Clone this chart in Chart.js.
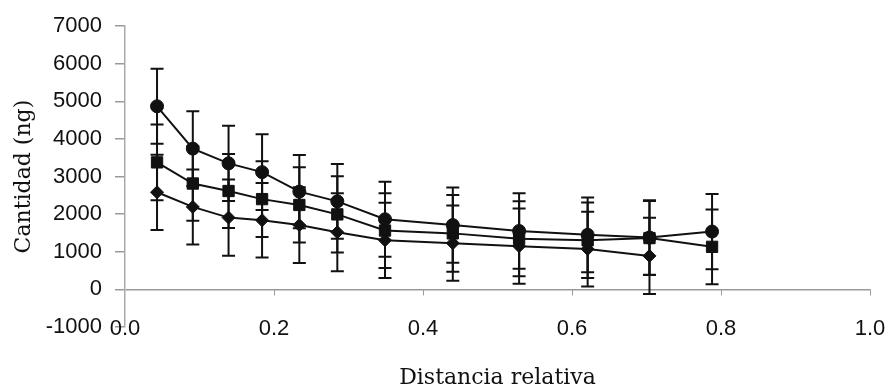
<!DOCTYPE html>
<html>
<head>
<meta charset="utf-8">
<script src="https://cdn.jsdelivr.net/npm/chart.js@4.4.1/dist/chart.umd.min.js"></script>
<style>
  html, body { margin: 0; padding: 0; background: #ffffff; }
  #wrap { width: 893px; height: 391px; position: relative; }
</style>
</head>
<body>
<div id="wrap"><canvas id="c" width="893" height="391"></canvas></div>
<script>
// ---- data ----
const distancia = [0.043, 0.091, 0.139, 0.184, 0.234, 0.285, 0.349, 0.440, 0.529, 0.621, 0.704, 0.788];

const serieCirculo = [4870, 3745, 3352, 3119, 2601, 2342, 1865, 1710, 1554, 1451, 1380, 1539];
const errorCirculo = [997, 992, 1000, 1005, 974, 992, 997, 1000, 1005, 993, 988, 1000];

const serieCuadrado = [3378, 2816, 2617, 2401, 2246, 1995, 1565, 1490, 1347, 1306, 1365, 1132];
const errorCuadrado = [1005, 992, 985, 1010, 1000, 1015, 993, 1020, 1000, 1005, 985, 992];

const serieRombo = [2583, 2194, 1909, 1839, 1710, 1521, 1306, 1230, 1150, 1073, 891];
const errorRombo = [1000, 997, 1015, 993, 1010, 1037, 1000, 1000, 1000, 993, 1014];

const xTicks = [0.0, 0.2, 0.4, 0.6, 0.8, 1.0];
const yTicks = [-1000, 0, 1000, 2000, 3000, 4000, 5000, 6000, 7000];

const xTitle = 'Distancia relativa';
const yTitle = 'Cantidad (ng)';

function pts(xs, ys, es) {
  return ys.map((y, i) => ({ x: xs[i], y: y, err: es[i] }));
}

const tickFont = { family: "'Liberation Sans', Arial, sans-serif", size: 22 };
const titleFont = { family: "'DejaVu Serif', serif", size: 22 };

const errorBars = {
  id: 'errorBars',
  beforeDatasetsDraw(chart) {
    const ctx = chart.ctx;
    const xs = chart.scales.x, ys = chart.scales.y;
    ctx.save();
    ctx.strokeStyle = '#111';
    ctx.lineWidth = 2;
    chart.data.datasets.forEach(ds => {
      ds.data.forEach(p => {
        const px = xs.getPixelForValue(p.x);
        const top = ys.getPixelForValue(p.y + p.err);
        const bot = ys.getPixelForValue(p.y - p.err);
        ctx.beginPath();
        ctx.moveTo(px, top); ctx.lineTo(px, bot);
        ctx.moveTo(px - 6.5, top); ctx.lineTo(px + 6.5, top);
        ctx.moveTo(px - 6.5, bot); ctx.lineTo(px + 6.5, bot);
        ctx.stroke();
      });
    });
    ctx.restore();
  }
};

// small tick marks on the zero line and x tick labels at the bottom of the plot
const xAxisDecor = {
  id: 'xAxisDecor',
  beforeDatasetsDraw(chart) {
    const ctx = chart.ctx;
    const xs = chart.scales.x, ys = chart.scales.y;
    const y0 = ys.getPixelForValue(0);
    ctx.save();
    ctx.strokeStyle = '#9a9a9a';
    ctx.lineWidth = 1;
    xTicks.forEach(v => {
      if (v === 0) return;
      const px = Math.round(xs.getPixelForValue(v)) + 0.5;
      ctx.beginPath();
      ctx.moveTo(px, y0);
      ctx.lineTo(px, y0 + 6);
      ctx.stroke();
    });
    ctx.restore();
  },
  afterDraw(chart) {
    const ctx = chart.ctx;
    const xs = chart.scales.x;
    const yLab = chart.chartArea.bottom + 2;
    ctx.save();
    ctx.font = tickFont.size + 'px ' + tickFont.family;
    ctx.fillStyle = '#111';
    ctx.textAlign = 'center';
    ctx.textBaseline = 'middle';
    xTicks.forEach(v => {
      ctx.fillText(v.toFixed(1), xs.getPixelForValue(v), yLab);
    });
    ctx.restore();
  }
};

new Chart(document.getElementById('c'), {
  type: 'scatter',
  data: {
    datasets: [
      {
        label: 'círculo',
        data: pts(distancia, serieCirculo, errorCirculo),
        showLine: true,
        borderColor: '#111', backgroundColor: '#111',
        borderWidth: 2,
        pointStyle: 'circle', pointRadius: 6.5, pointBorderWidth: 1,
        pointBackgroundColor: '#111', pointBorderColor: '#111'
      },
      {
        label: 'cuadrado',
        data: pts(distancia, serieCuadrado, errorCuadrado),
        showLine: true,
        borderColor: '#111', backgroundColor: '#111',
        borderWidth: 2,
        pointStyle: 'rect', pointRadius: 8, pointBorderWidth: 1,
        pointBackgroundColor: '#111', pointBorderColor: '#111'
      },
      {
        label: 'rombo',
        data: pts(distancia, serieRombo, errorRombo),
        showLine: true,
        borderColor: '#111', backgroundColor: '#111',
        borderWidth: 2,
        pointStyle: 'rectRot', pointRadius: 6.5, pointBorderWidth: 1,
        pointBackgroundColor: '#111', pointBorderColor: '#111'
      }
    ]
  },
  options: {
    responsive: false,
    animation: false,
    layout: { padding: { left: 0, top: 19, right: 23, bottom: 0 } },
    plugins: {
      legend: { display: false },
      tooltip: { enabled: false }
    },
    scales: {
      x: {
        type: 'linear',
        min: 0, max: 1,
        afterBuildTicks: s => { s.ticks = xTicks.map(v => ({ value: v })); },
        afterFit: s => { s.height = 64; s.paddingLeft = 0; s.paddingRight = 0; },
        ticks: { display: false },
        grid: { display: false, drawTicks: false },
        border: { display: false },
        title: {
          display: true, text: xTitle, font: titleFont, color: '#111',
          padding: { top: 4, bottom: 0 }
        }
      },
      y: {
        type: 'linear',
        min: -1000, max: 7000,
        afterBuildTicks: s => { s.ticks = yTicks.map(v => ({ value: v })); },
        afterFit: s => { s.width = 125; },
        ticks: {
          font: tickFont, color: '#111',
          padding: 13,
          callback: v => String(v)
        },
        grid: {
          drawOnChartArea: true,
          color: c => (c.tick && c.tick.value === 0) ? '#9a9a9a' : 'rgba(0,0,0,0)',
          tickColor: '#9a9a9a',
          tickLength: 10,
          lineWidth: 1.5
        },
        border: { display: true, color: '#aaaaaa', width: 1.5 },
        title: {
          display: true, text: yTitle, font: titleFont, color: '#111',
          padding: { top: 11, bottom: 0 }
        }
      }
    }
  },
  plugins: [errorBars, xAxisDecor]
});
</script>
</body>
</html>
